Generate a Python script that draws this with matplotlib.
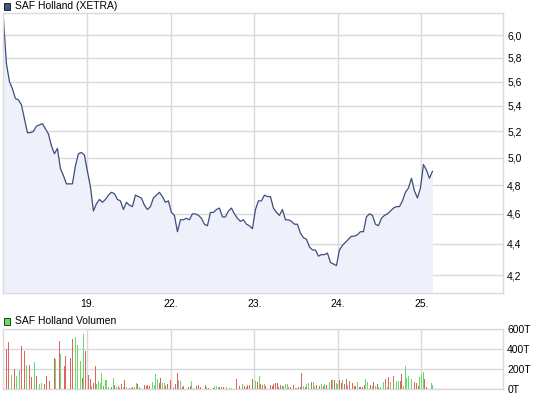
import numpy as np
import matplotlib
matplotlib.use('Agg')
import matplotlib.pyplot as plt
from matplotlib.patches import Rectangle
from matplotlib.ticker import FixedLocator, FuncFormatter, NullLocator

# XETRA intraday, one price sample every ~18.3 minutes (510 trading minutes a day)
price = [
    6.15, 5.75, 5.60, 5.54, 5.46, 5.45, 5.41, 5.30, 5.19, 5.19,
    5.20, 5.24, 5.25, 5.26, 5.22, 5.18, 5.09, 5.03, 5.07, 4.92,
    4.87, 4.81, 4.81, 4.81, 4.94, 5.03, 5.04, 5.02, 4.90, 4.79,
    4.62, 4.67, 4.70, 4.68, 4.70, 4.73, 4.75, 4.74, 4.70, 4.69,
    4.63, 4.68, 4.66, 4.65, 4.73, 4.72, 4.71, 4.66, 4.63, 4.65,
    4.71, 4.73, 4.75, 4.72, 4.68, 4.69, 4.61, 4.59, 4.48, 4.56,
    4.56, 4.57, 4.56, 4.60, 4.60, 4.59, 4.57, 4.53, 4.52, 4.61,
    4.61, 4.63, 4.64, 4.58, 4.58, 4.62, 4.64, 4.60, 4.57, 4.55,
    4.56, 4.53, 4.52, 4.50, 4.63, 4.69, 4.69, 4.73, 4.72, 4.72,
    4.64, 4.61, 4.59, 4.63, 4.56, 4.56, 4.55, 4.53, 4.53, 4.47,
    4.44, 4.43, 4.38, 4.36, 4.36, 4.32, 4.33, 4.33, 4.34, 4.28,
    4.27, 4.26, 4.36, 4.39, 4.41, 4.43, 4.45, 4.45, 4.46, 4.48,
    4.48, 4.58, 4.60, 4.59, 4.53, 4.52, 4.57, 4.59, 4.60, 4.62,
    4.64, 4.65, 4.65, 4.69, 4.75, 4.78, 4.85, 4.76, 4.71, 4.78,
    4.95, 4.91, 4.85, 4.90,
]
sample_minutes = 18.3
day_minutes = 510

day_labels = ['19.', '22.', '23.', '24.', '25.']
price_ticks = [4.2, 4.4, 4.6, 4.8, 5.0, 5.2, 5.4, 5.6, 5.8, 6.0]

# volume: 10-minute slot (51 per day), thousands of shares, r=down g=up n=unchanged
vol_slot = ([2, 3, 4, 5, 7, 8, 10, 11, 13, 14, 16, 17, 19, 20, 22, 23, 25, 26, 28, 29,
             31, 32, 34, 35, 37, 38, 40, 41, 42, 44, 45, 47, 48, 49, 50] +
            [52, 53, 54, 55, 56, 57, 58, 59, 60, 61, 62, 63, 64, 65, 66, 67, 68, 69, 70, 71,
             72, 73, 74, 75, 76, 77, 78, 79, 80, 81, 82, 83, 86, 87, 88, 89, 90, 91, 92, 93,
             94, 95, 96, 97, 98, 99, 100, 101] +
            [102, 104, 105, 106, 107, 108, 109, 110, 112, 113, 114, 115, 116, 118, 119, 120,
             123, 124, 125, 126, 128, 129, 130, 131, 132, 133, 134, 136, 138, 139, 142, 144,
             146, 147, 148, 149, 150, 151, 152] +
            [154, 155, 156, 157, 158, 159, 160, 162, 163, 164, 165, 166, 167, 168, 169, 170,
             171, 172, 173, 174, 175, 176, 177, 178, 179, 180, 181, 182, 183, 184, 185, 186,
             187, 188, 189, 190, 191, 193, 194, 195, 196, 197, 198, 199, 200, 201, 202, 203] +
            [204, 205, 206, 207, 208, 209, 210, 211, 212, 213, 214, 215, 216, 217, 218, 219,
             220, 221, 222, 223, 224, 225, 226, 227, 228, 229, 230, 232, 233, 234, 235, 236,
             237, 238, 240, 241, 242, 243, 244, 245, 246, 247, 248, 249, 251, 252, 253, 254] +
            [255, 256, 257, 258, 259, 261, 262])
vol_k = ([400, 470, 340, 140, 203, 130, 190, 430, 380, 240, 240, 123, 270, 130, 50, 57, 50,
          130, 80, 250, 310, 300, 480, 350, 233, 330, 140, 310, 500, 520, 440, 280, 113, 550, 380] +
         [140, 100, 33, 60, 230, 50, 80, 60, 160, 30, 90, 90, 20, 40, 20, 110, 40, 20, 30, 13,
          50, 20, 90, 20, 10, 10, 10, 20, 20, 60, 50, 20, 40, 30, 40, 30, 60, 70, 40, 150,
          100, 60, 110, 60, 60, 30, 50, 60] +
         [90, 20, 50, 160, 90, 80, 20, 30, 40, 20, 30, 80, 10, 30, 40, 20, 40, 20, 10, 20,
          10, 30, 30, 20, 23, 20, 23, 23, 10, 10, 100, 30, 50, 33, 23, 40, 43, 80, 100] +
         [80, 73, 130, 47, 37, 50, 30, 70, 37, 30, 50, 60, 60, 20, 40, 27, 30, 50, 50, 20,
          20, 17, 40, 13, 10, 20, 20, 160, 30, 20, 47, 63, 47, 73, 70, 30, 37, 33, 50, 27,
          50, 40, 47, 67, 90, 93, 93, 60] +
         [50, 90, 63, 90, 53, 100, 37, 80, 80, 57, 27, 33, 70, 23, 20, 23, 43, 100, 73, 50,
          37, 27, 70, 33, 47, 20, 20, 70, 100, 23, 117, 67, 117, 133, 80, 80, 80, 150, 33, 230,
          113, 133, 107, 100, 70, 60, 27, 120] +
         [150, 167, 100, 23, 110, 60, 40])
vol_dir = ('rrrgrggrrgrrgrggrrrrrgrgrrgrrgggrgr'
           'rrgrrggggrggggrgrgrrrnrgrrrrggrgrrrrggnggrrggrrg'
           'rgrrngrrgrrggrrrrgrgrgggrrrgggrrgrnrrnr'
           'grgrrgrgrrrrrrrrgggnrgrngrrrgrggrrngrrgrgrggrgrg'
           'nrrgrrnrnrrrgrrrrggnrgrgrgggrgrggrggrrggggrgrrrg'
           'ggrrrgg')
vol_ticks = [0, 200, 400, 600]
slots_per_day = 51

line_col = '#3d4e7c'
fill_col = '#eef1fa'
grid_col = '#dadada'
bar_cols = {'r': '#e06262', 'g': '#66dd66', 'n': '#aaaaaa'}

plt.rcParams['font.family'] = ['Liberation Sans', 'DejaVu Sans']

W, H = 545, 398
fig = plt.figure(figsize=(W / 100, H / 100), dpi=100)
fig.patch.set_facecolor('white')


def fx(px):
    return px / W


def fy(py):
    return 1 - py / H


def style_axes(ax):
    for sp in ax.spines.values():
        sp.set_color(grid_col)
        sp.set_linewidth(1)
    ax.yaxis.tick_right()
    ax.tick_params(length=0, labelsize=7.5, colors='black', pad=3)
    ax.grid(True, color=grid_col, linewidth=1)
    ax.set_axisbelow(True)
    ax.set_xlim(-0.005, 5.975)
    ax.set_xticks(range(1, len(day_labels) + 1))


# price panel
ax = fig.add_axes([fx(3), fy(293), fx(500), 280 / H])
t = np.arange(len(price)) * sample_minutes / day_minutes
ax.fill_between(t, price, 4.0, color=fill_col, linewidth=0)
ax.plot(t, price, color=line_col, linewidth=0.9)
ax.set_yscale('log')
ax.set_ylim(4.09, 6.2)
style_axes(ax)
ax.yaxis.set_major_locator(FixedLocator(price_ticks))
ax.yaxis.set_minor_locator(NullLocator())
ax.yaxis.set_major_formatter(FuncFormatter(lambda v, p: f'{v:.1f}'.replace('.', ',')))
ax.set_xticklabels(day_labels)
ax.tick_params(axis='x', pad=4)

# volume panel
axv = fig.add_axes([fx(3), fy(389), fx(500), 60 / H])
vx = np.array(vol_slot) / slots_per_day
axv.bar(vx, vol_k, width=0.011, color=[bar_cols[c] for c in vol_dir],
        linewidth=0, antialiased=False, zorder=3)
axv.set_ylim(0, 600)
style_axes(axv)
axv.set_yticks(vol_ticks)
axv.set_yticklabels([f'{v}T' for v in vol_ticks])
axv.set_xticklabels([])

# legends
fig.add_artist(Rectangle((fx(4), fy(9.5)), fx(6), 6.5 / H, transform=fig.transFigure,
                         facecolor='#44577f', edgecolor='#222233', linewidth=0.7))
fig.text(fx(15), fy(6), 'SAF Holland (XETRA)', fontsize=7.5, va='center', ha='left')
fig.add_artist(Rectangle((fx(4), fy(324.5)), fx(6), 6.5 / H, transform=fig.transFigure,
                         facecolor='#66dd66', edgecolor='#224422', linewidth=0.7))
fig.text(fx(15), fy(321), 'SAF Holland Volumen', fontsize=7.5, va='center', ha='left')

fig.savefig('out.png', dpi=100)
